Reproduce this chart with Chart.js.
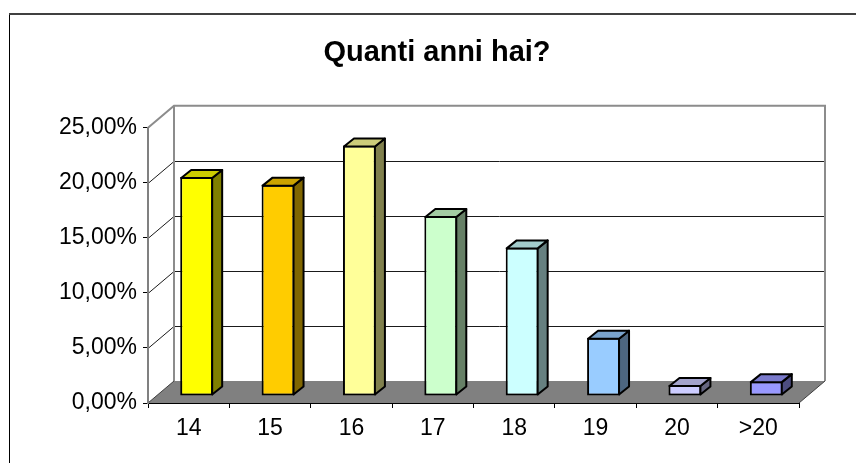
<!DOCTYPE html>
<html><head><meta charset="utf-8">
<script src="https://cdn.jsdelivr.net/npm/chart.js@4/dist/chart.umd.min.js"></script>
<style>html,body{margin:0;padding:0;background:#fff;overflow:hidden}</style>
</head><body>
<canvas id="c" width="856" height="463"></canvas>
<script>
// ---- data ----
const categories = ['14', '15', '16', '17', '18', '19', '20', '>20'];
const percentages = [19.9, 19.2, 22.75, 16.35, 13.5, 5.3, 1.0, 1.35];
const yTicks = [0, 5, 10, 15, 20, 25];
const titleText = 'Quanti anni hai?';

// ---- styles ----
const barColors = ['#FFFF00', '#FFCC00', '#FFFF99', '#CCFFCC', '#CCFFFF', '#99CCFF', '#CCCCFF', '#9999FF'];
const WALL_DX = 26, WALL_DY = 22;   // depth of the 3D box
const BAR_OX = 8, BAR_OY = 7;       // bar front face offset from the front plane
const BAR_DX = 10, BAR_DY = 8;      // bar depth
const FONT = '"Liberation Sans", Arial, sans-serif';

function shade(hex, f) {
  const n = parseInt(hex.slice(1), 16);
  const r = (n >> 16) & 255, g = (n >> 8) & 255, b = n & 255;
  return 'rgb(' + Math.round(r * f) + ',' + Math.round(g * f) + ',' + Math.round(b * f) + ')';
}
function poly(ctx, pts) {
  ctx.beginPath();
  ctx.moveTo(pts[0][0], pts[0][1]);
  for (let i = 1; i < pts.length; i++) ctx.lineTo(pts[i][0], pts[i][1]);
  ctx.closePath();
}
function line(ctx, x1, y1, x2, y2) {
  ctx.beginPath(); ctx.moveTo(x1, y1); ctx.lineTo(x2, y2); ctx.stroke();
}

const threeD = {
  id: 'threeD',
  afterLayout(chart) {
    // centre the title over the region 75..chartArea.right like the original
    const tb = chart.titleBlock;
    if (tb) { tb.left = 75; tb.width = tb.right - tb.left; }
  },
  beforeDraw(chart) {
    const ctx = chart.ctx, a = chart.chartArea, y = chart.scales.y;
    ctx.save();
    ctx.fillStyle = '#fff';
    ctx.fillRect(0, 0, chart.width, chart.height);
    // outer frame
    ctx.strokeStyle = '#000'; ctx.lineWidth = 1;
    line(ctx, 9.5, 13, 9.5, chart.height);
    ctx.strokeStyle = '#404040'; ctx.lineWidth = 2;
    line(ctx, 9, 14, chart.width, 14);

    const y0 = y.getPixelForValue(yTicks[0]);
    const yT = y.getPixelForValue(yTicks[yTicks.length - 1]);
    const L = a.left, R = a.right;
    // floor
    ctx.fillStyle = '#808080';
    poly(ctx, [[L, y0], [R, y0], [R + WALL_DX, y0 - WALL_DY], [L + WALL_DX, y0 - WALL_DY]]);
    ctx.fill();
    // gridlines on back wall and left wall
    ctx.strokeStyle = '#1a1a1a'; ctx.lineWidth = 1;
    for (let i = 1; i < yTicks.length - 1; i++) {
      const yy = Math.round(y.getPixelForValue(yTicks[i])) + 0.5;
      line(ctx, L + WALL_DX, yy - WALL_DY, R + WALL_DX, yy - WALL_DY);
      line(ctx, L, yy, L + WALL_DX, yy - WALL_DY);
    }
    // wall borders
    ctx.strokeStyle = '#8c8c8c'; ctx.lineWidth = 2;
    ctx.beginPath();
    ctx.moveTo(L, yT);
    ctx.lineTo(L + WALL_DX, yT - WALL_DY);
    ctx.lineTo(R + WALL_DX, yT - WALL_DY);
    ctx.lineTo(R + WALL_DX, y0 - WALL_DY);
    ctx.stroke();
    line(ctx, L + WALL_DX, yT - WALL_DY, L + WALL_DX, y0 - WALL_DY);
    ctx.strokeStyle = '#404040'; ctx.lineWidth = 1;
    line(ctx, R, y0, R + WALL_DX, y0 - WALL_DY);
    line(ctx, L, y0, L + WALL_DX, y0 - WALL_DY);
    ctx.restore();
  },
  beforeDatasetsDraw(chart) {
    chart.ctx.save();
    chart.ctx.translate(BAR_OX, -BAR_OY);
  },
  afterDatasetsDraw(chart) {
    const ctx = chart.ctx;
    ctx.restore();
    const meta = chart.getDatasetMeta(0);
    ctx.save();
    ctx.lineWidth = 2;
    ctx.lineJoin = 'round';
    ctx.strokeStyle = '#000';
    meta.data.forEach((el, i) => {
      const p = el.getProps(['x', 'y', 'base', 'width'], true);
      const left = p.x - p.width / 2 + BAR_OX + 1;
      const right = p.x + p.width / 2 + BAR_OX - 1;
      const top = Math.min(p.y, p.base) - BAR_OY + 1;
      const bot = Math.max(p.y, p.base) - BAR_OY - 1;
      const col = barColors[i % barColors.length];
      // side face
      ctx.fillStyle = shade(col, 0.5);
      poly(ctx, [[right, top], [right + BAR_DX, top - BAR_DY], [right + BAR_DX, bot - BAR_DY], [right, bot]]);
      ctx.fill(); ctx.stroke();
      // top face
      ctx.fillStyle = shade(col, 0.8);
      poly(ctx, [[left, top], [left + BAR_DX, top - BAR_DY], [right + BAR_DX, top - BAR_DY], [right, top]]);
      ctx.fill(); ctx.stroke();
    });
    ctx.restore();
  }
};

new Chart(document.getElementById('c'), {
  type: 'bar',
  data: {
    labels: categories,
    datasets: [{
      data: percentages,
      backgroundColor: barColors,
      borderColor: '#000',
      borderWidth: 2,
      borderSkipped: false,
      categoryPercentage: 1,
      barPercentage: 0.405,
      clip: false
    }]
  },
  options: {
    responsive: false,
    animation: false,
    devicePixelRatio: 1,
    layout: { padding: { left: 30, right: 57, top: 0, bottom: 0 } },
    plugins: {
      legend: { display: false },
      tooltip: { enabled: false },
      title: {
        display: true,
        text: titleText,
        color: '#000',
        font: { family: FONT, size: 29, weight: 'bold', lineHeight: 1.2 },
        padding: { top: 36, bottom: 57 }
      }
    },
    scales: {
      x: {
        offset: true,
        grid: { display: true, offset: true, drawOnChartArea: false, drawTicks: true, tickLength: 5, tickColor: '#000' },
        border: { display: true, color: '#000', width: 1 },
        ticks: { color: '#000', font: { family: FONT, size: 23 }, padding: 7, maxRotation: 0, autoSkip: false },
        afterFit(s) { s.height = 60; }
      },
      y: {
        min: yTicks[0],
        max: yTicks[yTicks.length - 1],
        grid: { display: true, drawOnChartArea: false, drawTicks: true, tickLength: 5, tickColor: '#000' },
        border: { display: true, color: '#808080', width: 2 },
        ticks: {
          stepSize: yTicks[1] - yTicks[0],
          color: '#000',
          font: { family: FONT, size: 23 },
          padding: 6,
          callback: v => v.toFixed(2).replace('.', ',') + '%'
        },
        afterFit(s) { s.width = 118; }
      }
    }
  },
  plugins: [threeD]
});
</script>
</body></html>
